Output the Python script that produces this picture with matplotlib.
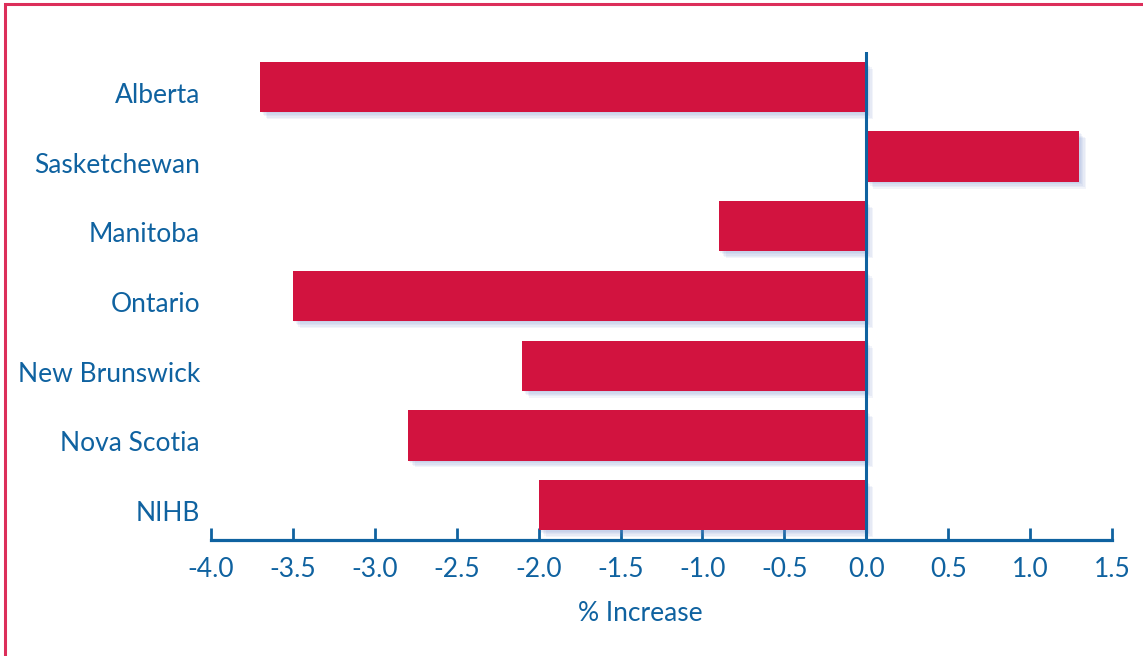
import matplotlib
matplotlib.use("Agg")
import matplotlib.pyplot as plt
import matplotlib.patheffects as pe
import matplotlib.transforms as mtransforms
from matplotlib.patches import Rectangle

# date
provinces = ["Alberta", "Sasketchewan", "Manitoba", "Ontario",
             "New Brunswick", "Nova Scotia", "NIHB"]
pct_increase = [-3.7, 1.3, -0.9, -3.5, -2.1, -2.8, -2.0]
x_ticks = [-4.0, -3.5, -3.0, -2.5, -2.0, -1.5, -1.0, -0.5, 0.0, 0.5, 1.0, 1.5]

BAR_COLOR = "#d2133f"
TEXT_COLOR = "#0f62a0"
FRAME_COLOR = "#dc2e5a"

plt.rcParams["font.family"] = ["Lato", "DejaVu Sans"]

fig = plt.figure(figsize=(11.43, 6.56), dpi=100)
ax = fig.add_axes([211 / 1143, 116 / 656, 901 / 1143, 488 / 656])

ypos = list(range(len(provinces)))
shadow = [pe.SimplePatchShadow(offset=(d, -d), shadow_rgbFace="#6f8fcc", alpha=0.09)
          for d in (1, 2, 3, 4, 5)]
ax.barh(ypos, pct_increase, height=0.72, color=BAR_COLOR, zorder=3,
        path_effects=shadow + [pe.Normal()])

ax.set_ylim(len(provinces) - 0.5, -0.5)
ax.set_xlim(-4.0, 1.5)
ax.set_yticks(ypos)
ax.set_yticklabels(provinces)
ax.set_xticks(x_ticks)
ax.set_xticklabels([f"{t:.1f}" for t in x_ticks])

ax.axvline(0, color=TEXT_COLOR, lw=2.2, zorder=4)

for s in ["top", "right", "left"]:
    ax.spines[s].set_visible(False)
ax.spines["bottom"].set_color(TEXT_COLOR)
ax.spines["bottom"].set_linewidth(2.3)

ax.tick_params(axis="x", direction="in", length=9, width=2.0, color=TEXT_COLOR,
               labelcolor=TEXT_COLOR, labelsize=19, pad=12)
ax.tick_params(axis="y", length=0, labelcolor=TEXT_COLOR, labelsize=19, pad=8)
ax.set_xlabel("% Increase", color=TEXT_COLOR, fontsize=19)
ax.xaxis.set_label_coords(0.476, -0.150)
ax.xaxis.label.set_va("center")

# etichetele din stanga sunt putin mai jos decat centrul barelor
offset = mtransforms.ScaledTranslation(0, -6 / 100, fig.dpi_scale_trans)
for lbl in ax.get_yticklabels():
    lbl.set_transform(lbl.get_transform() + offset)

# chenarul rosu din jurul figurii
fig.patches.append(Rectangle((5 / 1143, -0.1), 1.2, (656 - 4) / 656 + 0.1,
                             transform=fig.transFigure, fill=False,
                             edgecolor=FRAME_COLOR, lw=2.2))

fig.savefig("out.png", dpi=100)
